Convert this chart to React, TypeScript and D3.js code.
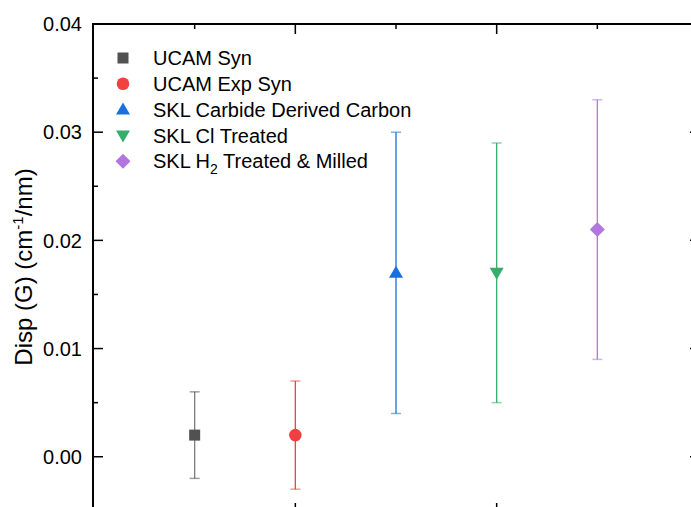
import React from "react";
import * as d3 from "d3";

const categories = ["UCAM Syn", "UCAM Exp Syn", "SKL Carbide Derived Carbon", "SKL Cl Treated", "SKL H2 Treated & Milled"];
const xPositions = [1, 2, 3, 4, 5];
const values = [0.002, 0.002, 0.017, 0.017, 0.021];
const errors = [0.004, 0.005, 0.013, 0.012, 0.012];
const colors = ["#515151", "#F14040", "#1A6FDF", "#37AD6B", "#B177DE"];
const symbols = ["square", "circle", "triangleUp", "triangleDown", "diamond"];
const yTicks = [0.0, 0.01, 0.02, 0.03, 0.04];
const yMinorTicks = [0.005, 0.015, 0.025, 0.035];
const xMajorTicks = [2, 4];
const xMinorTicks = [1, 3, 5];

const W = 691, H = 507;
const axLeft = 93, axRight = 700, top = 24, bottom = 513;

function Marker({ type, cx, cy, color }: { type: string; cx: number; cy: number; color: string }) {
  if (type === "square") return <rect x={cx - 5.5} y={cy - 5.5} width={11} height={11} fill={color} />;
  if (type === "circle") return <circle cx={cx} cy={cy} r={6.3} fill={color} />;
  if (type === "triangleUp")
    return <path d={`M${cx},${cy - 7}L${cx + 7},${cy + 5}L${cx - 7},${cy + 5}Z`} fill={color} />;
  if (type === "triangleDown")
    return <path d={`M${cx},${cy + 7}L${cx + 7},${cy - 5}L${cx - 7},${cy - 5}Z`} fill={color} />;
  return <path d={`M${cx},${cy - 7.5}L${cx + 7.5},${cy}L${cx},${cy + 7.5}L${cx - 7.5},${cy}Z`} fill={color} />;
}

export default function App() {
  const x = d3.scaleLinear().domain([0, 6]).range([94, 698]);
  const y = d3.scaleLinear().domain([-0.0052, 0.04]).range([bottom, top]);
  const font = "Arial, 'Liberation Sans', sans-serif";
  const legendY0 = 58, legendDy = 25.8;

  return (
    <svg width={W} height={H} style={{ position: "fixed", left: 0, top: 0, display: "block", background: "#fff" }} fontFamily={font}>
      {xPositions.map((p, i) => {
        const cx = x(p);
        const yt = y(values[i] + errors[i]);
        const yb = y(values[i] - errors[i]);
        return (
          <g key={i}>
            <line x1={cx} x2={cx} y1={yt} y2={yb} stroke={colors[i]} strokeWidth={1.3} strokeOpacity={i === 0 ? 0.75 : 1} />
            <line x1={cx - 5} x2={cx + 5} y1={yt} y2={yt} stroke={colors[i]} strokeWidth={1.5} strokeOpacity={0.55} />
            <line x1={cx - 5} x2={cx + 5} y1={yb} y2={yb} stroke={colors[i]} strokeWidth={1.5} strokeOpacity={0.55} />
            <Marker type={symbols[i]} cx={cx} cy={y(values[i])} color={colors[i]} />
          </g>
        );
      })}

      <line x1={axLeft} x2={axLeft} y1={top - 1} y2={bottom} stroke="#000" strokeWidth={2} />
      <line x1={axLeft - 1} x2={axRight + 1} y1={top} y2={top} stroke="#000" strokeWidth={2} />
      <line x1={axRight} x2={axRight} y1={top} y2={bottom} stroke="#000" strokeWidth={2} />
      <line x1={axLeft} x2={axRight} y1={bottom} y2={bottom} stroke="#000" strokeWidth={2} />

      {yTicks.map((t) => (
        <g key={"yt" + t}>
          <line x1={axLeft} x2={axLeft + 10} y1={y(t)} y2={y(t)} stroke="#000" strokeWidth={1.5} />
          <line x1={axRight - 10} x2={axRight} y1={y(t)} y2={y(t)} stroke="#000" strokeWidth={1.5} />
          <text x={82} y={y(t)} dy="0.36em" textAnchor="end" fontSize={20} fill="#000">
            {d3.format(".2f")(t)}
          </text>
        </g>
      ))}
      {yMinorTicks.map((t) => (
        <g key={"ym" + t}>
          <line x1={axLeft} x2={axLeft + 5} y1={y(t)} y2={y(t)} stroke="#000" strokeWidth={1.5} />
          <line x1={axRight - 5} x2={axRight} y1={y(t)} y2={y(t)} stroke="#000" strokeWidth={1.5} />
        </g>
      ))}

      {xMajorTicks.map((t) => (
        <g key={"xt" + t}>
          <line x1={x(t)} x2={x(t)} y1={top} y2={top + 10} stroke="#000" strokeWidth={1.5} />
          <line x1={x(t)} x2={x(t)} y1={bottom - 10} y2={bottom} stroke="#000" strokeWidth={1.5} />
        </g>
      ))}
      {xMinorTicks.map((t) => (
        <g key={"xm" + t}>
          <line x1={x(t)} x2={x(t)} y1={top} y2={top + 5} stroke="#000" strokeWidth={1.5} />
          <line x1={x(t)} x2={x(t)} y1={bottom - 5} y2={bottom} stroke="#000" strokeWidth={1.5} />
        </g>
      ))}

      <text transform={`translate(32, 267) rotate(-90)`} textAnchor="middle" fontSize={24} fill="#000">
        Disp (G) (cm<tspan dy={-9} fontSize={15}>-1</tspan><tspan dy={9}>/nm)</tspan>
      </text>

      {categories.map((c, i) => {
        const ly = legendY0 + i * legendDy;
        return (
          <g key={"lg" + i}>
            <Marker type={symbols[i]} cx={123} cy={ly} color={colors[i]} />
            <text x={153} y={ly} dy="0.36em" fontSize={20} fill="#000">
              {c === "SKL H2 Treated & Milled" ? (
                <>
                  SKL H<tspan dy={6} fontSize={14}>2</tspan><tspan dy={-6}> Treated &amp; Milled</tspan>
                </>
              ) : (
                c
              )}
            </text>
          </g>
        );
      })}
    </svg>
  );
}
